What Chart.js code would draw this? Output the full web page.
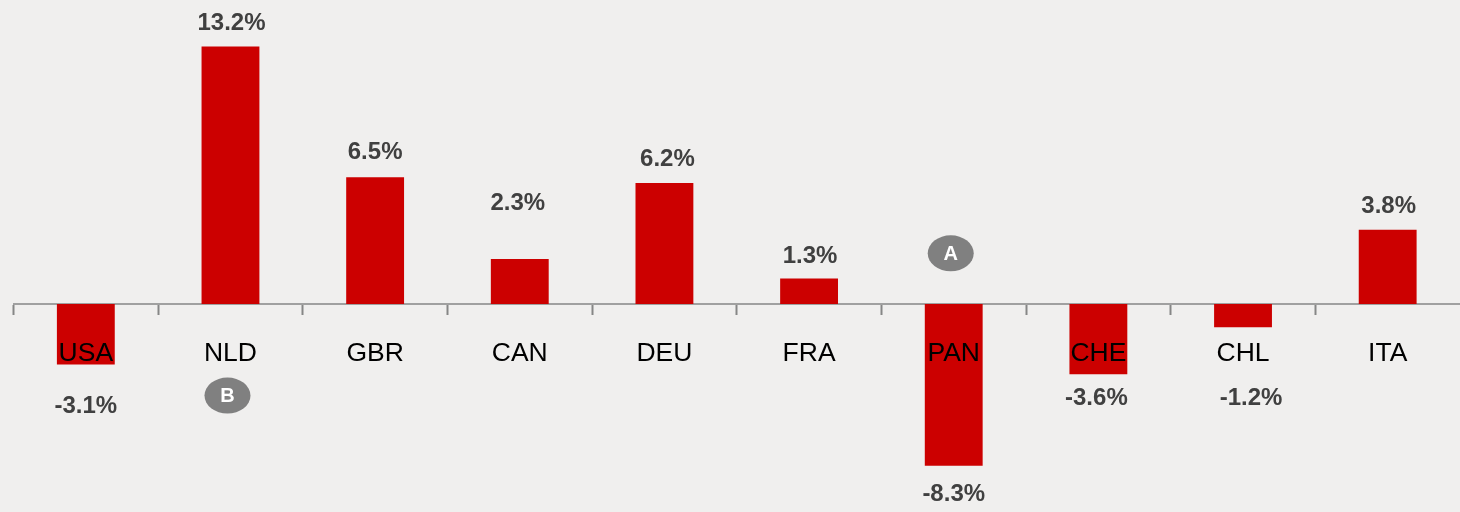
<!DOCTYPE html>
<html>
<head>
<meta charset="utf-8">
<style>
  html, body { margin: 0; padding: 0; background: #f0efee; }
  canvas { display: block; }
</style>
<script src="https://cdn.jsdelivr.net/npm/chart.js@4/dist/chart.umd.min.js"></script>
</head>
<body>
<canvas id="growth-chart" width="1460" height="512"></canvas>
<script>
const categories = ['USA', 'NLD', 'GBR', 'CAN', 'DEU', 'FRA', 'PAN', 'CHE', 'CHL', 'ITA'];
const values = [-3.1, 13.2, 6.5, 2.3, 6.2, 1.3, -8.3, -3.6, -1.2, 3.8];

const badgeLabels = ['A', 'B'];
const badgeCategories = ['PAN', 'NLD'];
const badgeValues = [2.6, -4.7];

// distance of each value label from the end of its bar, the source chart placed them by hand
const labelGaps = [42, 23, 25, 56, 24, 22, 29, 24, 71, 23];
const labelNudges = [0, 1, 0, -2, 3, 1, 0, -2, 8, 1];

const valueLabels = {
  id: 'valueLabels',
  afterDatasetsDraw(chart) {
    const ctx = chart.ctx;
    const bars = chart.getDatasetMeta(0).data;
    ctx.save();
    ctx.font = 'bold 24px "Liberation Sans"';
    ctx.fillStyle = '#404040';
    ctx.textAlign = 'center';
    ctx.textBaseline = 'middle';
    bars.forEach((bar, i) => {
      const dir = values[i] < 0 ? 1 : -1;
      ctx.fillText(values[i].toFixed(1) + '%', bar.x + labelNudges[i], bar.y + dir * labelGaps[i]);
    });
    ctx.restore();
  }
};

const badges = {
  id: 'badges',
  afterDatasetsDraw(chart) {
    const ctx = chart.ctx;
    const x = chart.scales.x;
    const y = chart.scales.y;
    ctx.save();
    ctx.textAlign = 'center';
    ctx.textBaseline = 'middle';
    badgeLabels.forEach((label, i) => {
      const px = x.getPixelForValue(badgeCategories[i]) - 3;
      const py = y.getPixelForValue(badgeValues[i]);
      ctx.fillStyle = '#808080';
      ctx.beginPath();
      ctx.ellipse(px, py, 23, 18, 0, 0, Math.PI * 2);
      ctx.fill();
      ctx.fillStyle = '#ffffff';
      ctx.font = 'bold 20px "Liberation Sans"';
      ctx.fillText(label, px, py + 1);
    });
    ctx.restore();
  }
};

new Chart(document.getElementById('growth-chart'), {
  type: 'bar',
  data: {
    labels: categories,
    datasets: [{
      data: values,
      backgroundColor: '#cc0000',
      barPercentage: 0.4,
      categoryPercentage: 1
    }]
  },
  options: {
    responsive: false,
    animation: false,
    layout: { padding: { left: 13.5, right: 0, top: 0, bottom: 0 } },
    plugins: { legend: { display: false }, tooltip: { enabled: false } },
    scales: {
      x: {
        position: { y: 0 },
        grid: {
          offset: true,
          drawOnChartArea: false,
          drawTicks: true,
          tickLength: 10,
          // the closing tick at the right edge is not drawn in the reference
          tickColor: c => (c.type === 'tick' ? '#868686' : 'transparent'),
          tickWidth: 2
        },
        border: { display: true, color: '#a0a0a0', width: 2 },
        ticks: {
          z: 1,
          autoSkip: false,
          maxRotation: 0,
          padding: 24,
          color: '#000000',
          font: { family: '"Liberation Sans"', size: 26.5 }
        }
      },
      y: {
        display: false,
        min: -10.67,
        max: 15.59
      }
    }
  },
  plugins: [valueLabels, badges]
});
</script>
</body>
</html>
